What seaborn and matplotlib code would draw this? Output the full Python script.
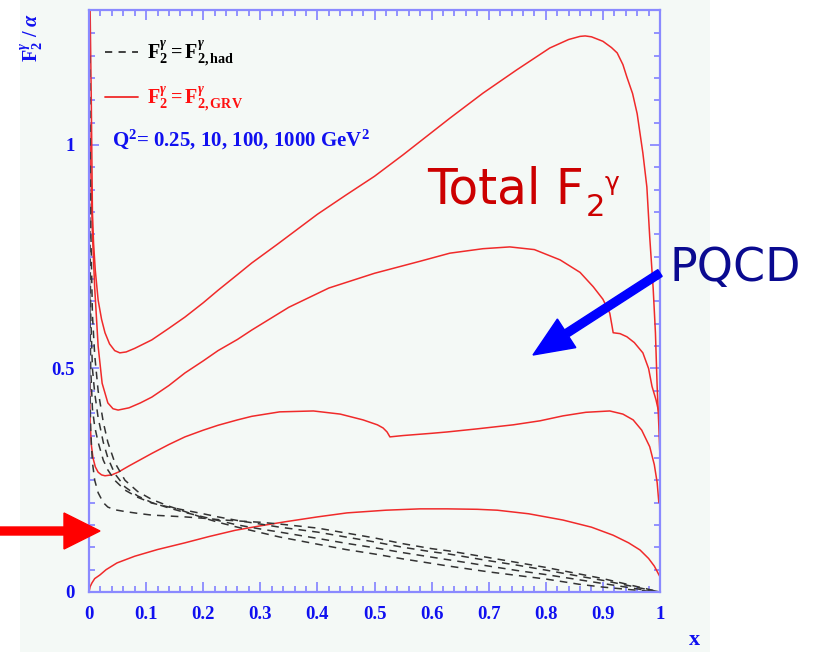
import numpy as np
import pandas as pd
import seaborn as sns
import matplotlib
matplotlib.use("Agg")
import matplotlib.pyplot as plt
from matplotlib.lines import Line2D
from matplotlib.patches import FancyArrow, Rectangle
from matplotlib.transforms import IdentityTransform

# ---------------- data ----------------
q2_values = ["0.25", "10", "100", "1000"]

grv_x_1000 = [0.001, 0.002, 0.004, 0.006, 0.008, 0.011, 0.016, 0.022, 0.028, 0.036, 0.045, 0.054, 0.065, 0.08,
              0.11, 0.14, 0.168, 0.2, 0.226, 0.26, 0.285, 0.33, 0.4, 0.45, 0.5, 0.55, 0.6, 0.632, 0.69, 0.749,
              0.807, 0.84, 0.86, 0.869, 0.88, 0.9, 0.915, 0.925, 0.935, 0.942, 0.952, 0.96, 0.97, 0.977, 0.982,
              0.988, 0.992, 0.995, 0.998, 1.0]
grv_y_1000 = [1.45, 1.3, 1.1, 0.85, 0.78, 0.72, 0.653, 0.61, 0.58, 0.555, 0.54, 0.535, 0.537, 0.545,
              0.564, 0.59, 0.615, 0.647, 0.675, 0.71, 0.736, 0.778, 0.845, 0.888, 0.93, 0.978, 1.028, 1.06, 1.116, 1.168,
              1.217, 1.236, 1.243, 1.244, 1.242, 1.232, 1.218, 1.206, 1.18, 1.152, 1.115, 1.07, 0.982, 0.906, 0.794,
              0.68, 0.58, 0.46, 0.37, 0.3]

grv_x_100 = [0.001, 0.003, 0.006, 0.01, 0.016, 0.023, 0.033, 0.042, 0.051, 0.07, 0.09, 0.11, 0.14, 0.168, 0.2,
             0.226, 0.26, 0.285, 0.35, 0.42, 0.5, 0.58, 0.632, 0.69, 0.737, 0.78, 0.825, 0.86, 0.883, 0.9, 0.912,
             0.916, 0.918, 0.93, 0.942, 0.955, 0.97, 0.98, 0.986, 0.993, 1.0]
grv_y_100 = [1.05, 0.95, 0.8, 0.68, 0.55, 0.467, 0.423, 0.41, 0.407, 0.412, 0.423, 0.436, 0.462, 0.49, 0.517,
             0.54, 0.565, 0.586, 0.637, 0.68, 0.713, 0.74, 0.758, 0.768, 0.772, 0.766, 0.743, 0.715, 0.683, 0.655, 0.624,
             0.595, 0.58, 0.578, 0.571, 0.558, 0.535, 0.5, 0.46, 0.43, 0.39]

grv_x_10 = [0.001, 0.002, 0.004, 0.007, 0.011, 0.016, 0.022, 0.028, 0.04, 0.051, 0.07, 0.09, 0.11, 0.14, 0.168,
            0.2, 0.226, 0.26, 0.285, 0.334, 0.393, 0.44, 0.48, 0.505, 0.515, 0.522, 0.527, 0.55, 0.6, 0.627, 0.68,
            0.743, 0.79, 0.83, 0.87, 0.912, 0.935, 0.953, 0.968, 0.982, 0.99, 0.995, 0.998]
grv_y_10 = [0.47, 0.38, 0.33, 0.30, 0.28, 0.268, 0.262, 0.26, 0.262, 0.268, 0.282, 0.296, 0.31, 0.33, 0.347,
            0.362, 0.373, 0.385, 0.393, 0.403, 0.405, 0.398, 0.385, 0.374, 0.367, 0.358, 0.347, 0.35, 0.355, 0.358, 0.365,
            0.374, 0.383, 0.394, 0.402, 0.405, 0.398, 0.385, 0.362, 0.325, 0.285, 0.245, 0.2]

grv_x_025 = [0.0, 0.002, 0.005, 0.01, 0.019, 0.03, 0.049, 0.08, 0.12, 0.168, 0.21, 0.256, 0.3, 0.343, 0.4, 0.452,
             0.52, 0.58, 0.627, 0.68, 0.715, 0.77, 0.83, 0.88, 0.918, 0.945, 0.965, 0.98, 0.99, 1.0]
grv_y_025 = [0.0, 0.012, 0.02, 0.03, 0.038, 0.05, 0.065, 0.08, 0.095, 0.11, 0.124, 0.138, 0.148, 0.157, 0.168, 0.177,
             0.183, 0.186, 0.186, 0.185, 0.183, 0.175, 0.161, 0.145, 0.127, 0.11, 0.094, 0.075, 0.058, 0.034]

had_x = [0.001, 0.003, 0.006, 0.01, 0.016, 0.025, 0.033, 0.045, 0.063, 0.085, 0.11, 0.14, 0.168, 0.2, 0.226, 0.26,
         0.3, 0.334, 0.4, 0.45, 0.5, 0.55, 0.6, 0.63, 0.7, 0.75, 0.8, 0.86, 0.9, 0.95, 0.98, 1.0]
had_y_025 = [0.5, 0.36, 0.29, 0.25, 0.222, 0.2, 0.19, 0.184, 0.18, 0.176, 0.172, 0.17, 0.168, 0.165, 0.162, 0.159,
             0.156, 0.152, 0.143, 0.132, 0.121, 0.108, 0.097, 0.092, 0.077, 0.066, 0.055, 0.04, 0.03, 0.015, 0.006, 0.0]
had_y_10 = [0.7, 0.5, 0.41, 0.37, 0.335, 0.295, 0.273, 0.25, 0.228, 0.212, 0.199, 0.19, 0.183, 0.175, 0.168, 0.16,
            0.152, 0.145, 0.134, 0.123, 0.112, 0.1, 0.09, 0.085, 0.07, 0.06, 0.049, 0.035, 0.026, 0.013, 0.005, 0.0]
had_y_100 = [0.9, 0.62, 0.5, 0.445, 0.39, 0.335, 0.3, 0.265, 0.235, 0.215, 0.2, 0.188, 0.178, 0.168, 0.16, 0.15,
             0.141, 0.134, 0.12, 0.109, 0.099, 0.088, 0.078, 0.072, 0.058, 0.048, 0.039, 0.027, 0.019, 0.009, 0.003, 0.0]
had_y_1000 = [1.2, 0.82, 0.62, 0.53, 0.45, 0.38, 0.335, 0.29, 0.25, 0.225, 0.207, 0.192, 0.18, 0.166, 0.156, 0.145,
              0.133, 0.123, 0.107, 0.095, 0.085, 0.074, 0.064, 0.058, 0.045, 0.037, 0.029, 0.017, 0.011, 0.005, 0.002, 0.0]

x_ticks = [0, 0.1, 0.2, 0.3, 0.4, 0.5, 0.6, 0.7, 0.8, 0.9, 1]
x_tick_labels = ["0", "0.1", "0.2", "0.3", "0.4", "0.5", "0.6", "0.7", "0.8", "0.9", "1"]
y_ticks = [0, 0.5, 1]
y_tick_labels = ["0", "0.5", "1"]

# ---------------- build table ----------------
frames = []
grv = {"0.25": (grv_x_025, grv_y_025), "10": (grv_x_10, grv_y_10),
       "100": (grv_x_100, grv_y_100), "1000": (grv_x_1000, grv_y_1000)}
had = {"0.25": had_y_025, "10": had_y_10, "100": had_y_100, "1000": had_y_1000}
for q in q2_values:
    gx, gy = grv[q]
    frames.append(pd.DataFrame({"x": gx, "F2": gy, "Q2": q, "model": "GRV"}))
    frames.append(pd.DataFrame({"x": had_x, "F2": had[q], "Q2": q, "model": "had"}))
df = pd.concat(frames, ignore_index=True)
df["curve"] = df["model"] + "_" + df["Q2"]

# ---------------- style ----------------
sns.set_theme(style="white")
plt.rcParams["font.family"] = ["Liberation Serif", "DejaVu Serif"]
plt.rcParams["mathtext.fontset"] = "custom"
plt.rcParams["mathtext.rm"] = "Liberation Serif:bold"
plt.rcParams["mathtext.it"] = "Liberation Serif:italic:bold"
plt.rcParams["mathtext.bf"] = "Liberation Serif:bold"

W, H = 818, 652
fig = plt.figure(figsize=(W / 100, H / 100), dpi=100, facecolor="white")
# light panel behind the plot
fig.add_artist(Rectangle((20 / W, 0), 690 / W, 1, transform=fig.transFigure,
                         facecolor="#f4f9f6", edgecolor="none", zorder=-10))

L, R, T, B = 89, 660, 10, 592
ax = fig.add_axes([L / W, 1 - B / H, (R - L) / W, (B - T) / H])
ax.set_facecolor("#f4f9f6")

red = "#f02a2a"
dark = "#333333"
sns.lineplot(data=df, x="x", y="F2", hue="model", style="model", units="curve", estimator=None,
             palette={"GRV": red, "had": dark}, dashes={"GRV": "", "had": (5, 4)},
             sort=False, linewidth=1.1, legend=False, ax=ax)

ax.set_xlim(0, 1)
ax.set_ylim(0, 1.302)
ax.set_xlabel("")
ax.set_ylabel("")

axis_col = "#8a8aff"
for s in ax.spines.values():
    s.set_color(axis_col)
    s.set_linewidth(1.6)
    s.set_visible(True)

ax.set_xticks(x_ticks)
ax.set_xticklabels(x_tick_labels)
ax.set_yticks(y_ticks)
ax.set_yticklabels(y_tick_labels)
ax.set_xticks(np.arange(0, 1.0001, 0.02), minor=True)
ax.set_yticks(np.arange(0, 1.3, 0.05), minor=True)
ax.tick_params(which="both", direction="in", top=True, right=True, bottom=True, left=True,
               color=axis_col, width=1.3)
ax.tick_params(which="major", length=7.5)
ax.tick_params(which="minor", length=4)
ax.tick_params(axis="x", which="major", pad=10)
ax.tick_params(axis="y", which="major", pad=10)
for lab in ax.get_xticklabels() + ax.get_yticklabels():
    lab.set_fontsize(13.5)
    lab.set_fontweight("bold")
    lab.set_color("#1010f0")
    lab.set_family("Liberation Serif")

# legend
handles = [Line2D([], [], color=dark, lw=1.3, dashes=(4, 3.5)),
           Line2D([], [], color=red, lw=1.3)]
labels = [r"$\mathrm{F}_2^\gamma = \mathrm{F}_{2,\mathrm{had}}^\gamma$",
          r"$\mathrm{F}_2^\gamma = \mathrm{F}_{2,\mathrm{GRV}}^\gamma$"]
leg = ax.legend(handles, labels, loc="upper left", bbox_to_anchor=(-0.004, 0.982), frameon=False,
                fontsize=14.5, handlelength=1.65, handletextpad=0.45, labelspacing=0.8, borderaxespad=0.5)
leg.get_texts()[0].set_color("black")
leg.get_texts()[1].set_color("#ff1010")


def fp(x, y):
    return x / W, 1 - y / H


fig.text(*fp(112, 140), r"$\mathrm{Q}^2$= 0.25, 10, 100, 1000 GeV$^2$", color="#1010f0",
         fontsize=15, fontweight="bold", va="center", ha="left")

# axis labels
fig.text(*fp(32, 37), r"$\mathrm{F}_2^\gamma$ / $\alpha$", color="#1010f0", fontsize=14.5,
         fontweight="bold", rotation=90, ha="center", va="center")
fig.text(*fp(694, 640), "x", color="#1010f0", fontsize=16, fontweight="bold", ha="center", va="center")

# annotations
sans = ["DejaVu Sans"]
fig.text(*fp(427, 203), "Total F", color="#cc0000", fontsize=35, family=sans, ha="left", va="baseline")
fig.text(*fp(586, 216), "2", color="#cc0000", fontsize=22, family=sans, ha="left", va="baseline")
fig.text(*fp(605, 190), "\u03b3", color="#cc0000", fontsize=18, family=sans, ha="left", va="baseline")
fig.text(*fp(670, 268), "PQCD", color="#0a0a90", fontsize=33, family=sans, ha="left", va="center")

# arrows (display pixels, origin bottom-left)
fig.add_artist(FancyArrow(0, H - 531, 100, 0, width=8, head_width=36, head_length=36,
                          length_includes_head=True, transform=IdentityTransform(),
                          color="#ff0000", zorder=20))
fig.add_artist(FancyArrow(660, H - 273, 533 - 660, -(355 - 273), width=8, head_width=34, head_length=40,
                          length_includes_head=True, transform=IdentityTransform(),
                          color="#0000ff", zorder=20))

fig.savefig("out.png", dpi=100, facecolor=fig.get_facecolor())
